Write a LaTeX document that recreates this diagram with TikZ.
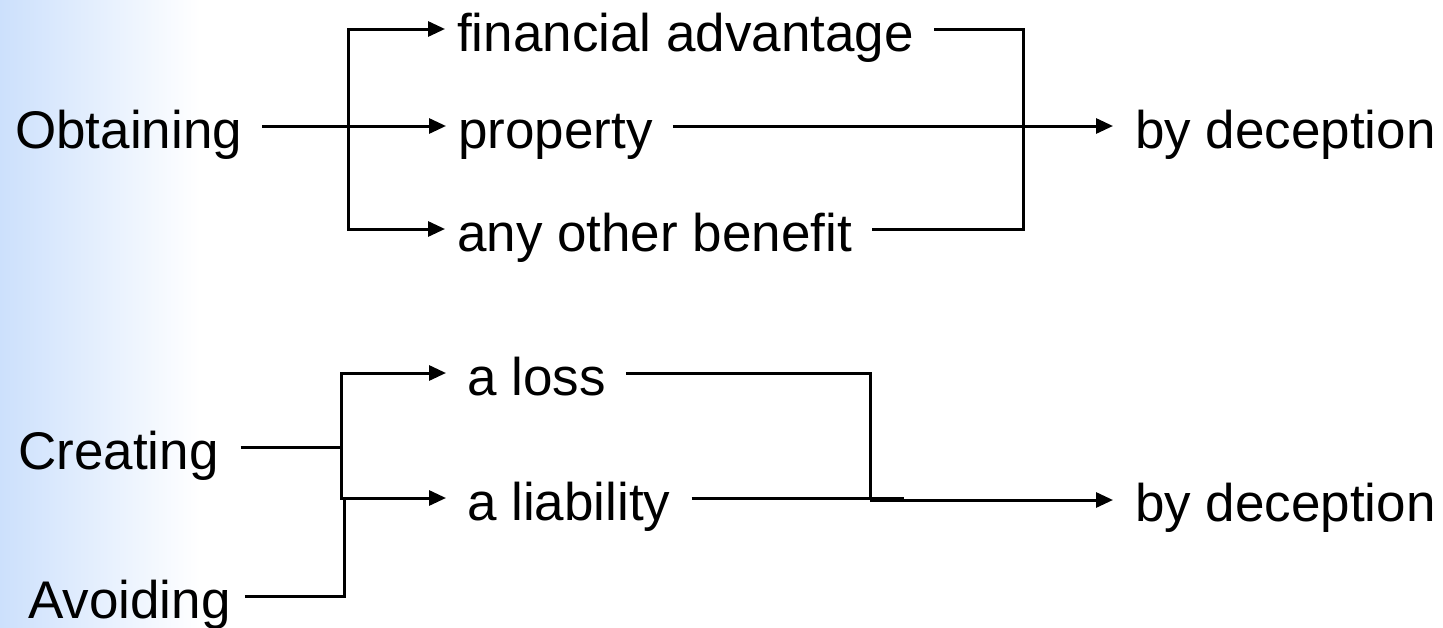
\documentclass[tikz,border=0pt]{standalone}
\usepackage{fontspec}
\setmainfont{Liberation Sans}
\usetikzlibrary{arrows.meta}
\definecolor{edgeblue}{RGB}{204,224,252}
\tikzset{
  lbl/.style={font=\fontsize{53}{60}\selectfont, inner sep=0pt,
              text height=44pt, text depth=0pt, anchor=west},
  ln/.style={line width=3pt, draw=black},
  arr/.style={ln, -{Triangle[length=17pt,width=15pt]}}
}
\begin{document}
\begin{tikzpicture}[x=1pt, y=-1pt]
  \useasboundingbox (0,0) rectangle (1443,627);
  \fill[white] (0,0) rectangle (1443,627);
  \shade[left color=edgeblue, right color=white] (0,0) rectangle (200,627);

  % upper group: obtaining ... by deception
  \node[lbl] (obt)  at (15,126)   {Obtaining};
  \node[lbl] (fin)  at (457,29)   {financial advantage};
  \node[lbl] (prop) at (458,126)  {property};
  \node[lbl] (oth)  at (457,229)  {any other benefit};
  \node[lbl] (dec1) at (1135,126) {by deception};

  \coordinate (b1) at (348,126);
  \coordinate (r1) at (1023,126);

  \draw[arr] ([xshift=20pt]obt.east) -- ([xshift=-12pt]prop.west);
  \draw[arr] (b1) |- ([xshift=-12pt]fin.west);
  \draw[arr] (b1) |- ([xshift=-12pt]oth.west);

  \draw[ln] ([xshift=20pt]fin.east) -| (r1);
  \draw[ln] ([xshift=20pt]oth.east) -| (r1);
  \draw[arr] ([xshift=20pt]prop.east) -- ([xshift=-22pt]dec1.west);

  % lower group: creating / avoiding ... by deception
  \node[lbl] (cre)  at (18,447)   {Creating};
  \node[lbl] (avo)  at (28,596)   {Avoiding};
  \node[lbl] (loss) at (467,373)  {a loss};
  \node[lbl] (liab) at (467,498)  {a liability};
  \node[lbl] (dec2) at (1135,499) {by deception};

  \coordinate (b2) at (341,447);
  \coordinate (b3) at (344,498);
  \coordinate (r2) at (870,500);
  \coordinate (r3) at (904,498);

  \draw[ln] ([xshift=22pt]cre.east) -- (b2);
  \draw[arr] (b2) |- ([xshift=-21pt]loss.west);
  \draw[arr] (b2) |- ([xshift=-21pt]liab.west);
  \draw[ln] ([xshift=14pt]avo.east) -| (b3);

  \draw[ln] ([xshift=20pt]loss.east) -| (r2);
  \draw[ln] ([xshift=21pt]liab.east) -- (r3);
  \draw[arr] (r2) -- ([xshift=-22pt]dec2.west |- r2);
\end{tikzpicture}
\end{document}
